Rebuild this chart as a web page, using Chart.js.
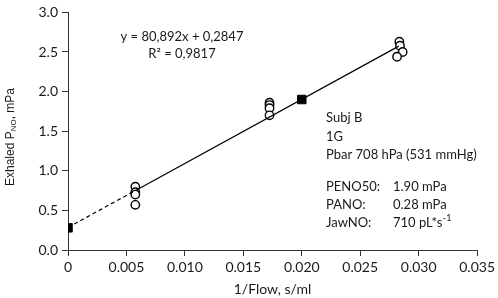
<!DOCTYPE html>
<html>
<head>
<meta charset="utf-8">
<script src="https://cdn.jsdelivr.net/npm/chart.js@4"></script>
<style>
  html, body { margin: 0; padding: 0; background: #fff; }
  #wrap { width: 498px; height: 298px; position: relative; }
</style>
</head>
<body>
<div id="wrap"><canvas id="chart"></canvas></div>
<script>
// measured samples (1/flow vs exhaled NO)
const flowInv = [
  0.00576, 0.00576, 0.00576, 0.00576,
  0.01724, 0.01724, 0.01724, 0.01724,
  0.02835, 0.0284, 0.02863, 0.02815,
];
const pno = [
  0.80, 0.73, 0.70, 0.57,
  1.86, 1.83, 1.79, 1.70,
  2.63, 2.58, 2.50, 2.44,
];

// derived points: PANO at intercept, PENO50 at 1/50 s/ml
const derivedX = [0, 0.02];
const derivedY = [0.28, 1.90];

// regression
const slope = 80.892;
const intercept = 0.2847;
const solidRange = [0.0059, 0.0283];
const dashRange = [0, 0.0059];

const yTicks = [0, 0.5, 1.0, 1.5, 2.0, 2.5, 3.0];
const xTicks = [0, 0.005, 0.01, 0.015, 0.02, 0.025, 0.03, 0.035];

const infoLines = ['Subj B', '1G', 'Pbar 708 hPa (531 mmHg)'];
const paramNames = ['PENO50:', 'PANO:', 'JawNO:'];
const paramValues = ['1.90 mPa', '0.28 mPa', '710 pL*s'];

const FONT = 'Lato, "Open Sans", sans-serif';
const textColor = '#1a1a1a';

const fitLine = (r) => r.map((x) => ({ x, y: slope * x + intercept }));

const annotations = {
  id: 'annotations',
  afterDraw(chart) {
    const { ctx } = chart;
    ctx.save();
    ctx.fillStyle = textColor;
    ctx.font = '13px ' + FONT;
    ctx.textBaseline = 'middle';

    // equation
    ctx.textAlign = 'center';
    ctx.fillText('y = 80,892x + 0,2847', 182, 37);
    ctx.fillText('R² = 0,9817', 182, 54);

    // subject info
    ctx.textAlign = 'left';
    infoLines.forEach((t, i) => ctx.fillText(t, 326, 118 + i * 18.5));
    paramNames.forEach((t, i) => ctx.fillText(t, 326, 187 + i * 18));
    paramValues.forEach((t, i) => ctx.fillText(t, 393, 187 + i * 18));
    // superscript on JawNO unit
    const w = ctx.measureText(paramValues[2]).width;
    ctx.font = '9px ' + FONT;
    ctx.fillText('-1', 393 + w + 0.5, 187 + 2 * 18 - 5);

    // y axis title with subscript
    const yFont = '"Liberation Sans", Arial, sans-serif';
    ctx.translate(11, 137);
    ctx.rotate(-Math.PI / 2);
    const parts = [['Exhaled P', 12, 0], ['NO', 8, 3], [', mPa', 12, 0]];
    let total = 0;
    parts.forEach(([t, s]) => {
      ctx.font = s + 'px ' + yFont;
      total += ctx.measureText(t).width;
    });
    let x = -total / 2;
    parts.forEach(([t, s, dy]) => {
      ctx.font = s + 'px ' + yFont;
      ctx.fillText(t, x, dy);
      x += ctx.measureText(t).width;
    });
    ctx.restore();
  },
};

new Chart(document.getElementById('chart'), {
  type: 'scatter',
  data: {
    datasets: [
      {
        data: fitLine(solidRange),
        type: 'line',
        showLine: true,
        borderColor: '#000',
        borderWidth: 1.2,
        pointRadius: 0,
      },
      {
        data: fitLine(dashRange),
        type: 'line',
        showLine: true,
        borderColor: '#000',
        borderWidth: 1.2,
        borderDash: [4, 3],
        pointRadius: 0,
      },
      {
        data: flowInv.map((x, i) => ({ x, y: pno[i] })),
        pointStyle: 'circle',
        pointRadius: 4.2,
        backgroundColor: '#fff',
        borderColor: '#000',
        borderWidth: 1.4,
      },
      {
        data: derivedX.map((x, i) => ({ x, y: derivedY[i] })),
        pointStyle: 'rect',
        pointRadius: 6,
        backgroundColor: '#000',
        borderColor: '#000',
        borderWidth: 1,
      },
    ],
  },
  options: {
    responsive: true,
    maintainAspectRatio: false,
    animation: false,
    layout: { padding: { top: 7, right: 18, left: 0, bottom: 0 } },
    plugins: {
      legend: { display: false },
      tooltip: { enabled: false },
    },
    scales: {
      x: {
        type: 'linear',
        min: 0,
        max: 0.035,
        afterBuildTicks: (s) => { s.ticks = xTicks.map((v) => ({ value: v })); },
        afterFit: (s) => { s.height = 48; },
        grid: { drawOnChartArea: false, drawTicks: true, tickLength: 6, color: '#333', lineWidth: 1 },
        border: { color: '#333', width: 1 },
        ticks: {
          color: textColor,
          font: { size: 14, family: FONT },
          padding: 3,
          maxRotation: 0,
          callback: (v) => (v === 0 ? '0' : v.toFixed(3)),
        },
        title: {
          display: true,
          text: '1/Flow, s/ml',
          color: textColor,
          font: { size: 14, family: FONT },
          padding: { top: 3, bottom: 0 },
        },
      },
      y: {
        type: 'linear',
        min: 0,
        max: 3,
        afterBuildTicks: (s) => { s.ticks = yTicks.map((v) => ({ value: v })); },
        afterFit: (s) => { s.width = 68; },
        grid: { drawOnChartArea: false, drawTicks: true, tickLength: 6, color: '#333', lineWidth: 1 },
        border: { color: '#333', width: 1 },
        ticks: {
          color: textColor,
          font: { size: 14, family: FONT },
          padding: 4,
          callback: (v) => v.toFixed(1),
        },
      },
    },
  },
  plugins: [annotations],
});
</script>
</body>
</html>
